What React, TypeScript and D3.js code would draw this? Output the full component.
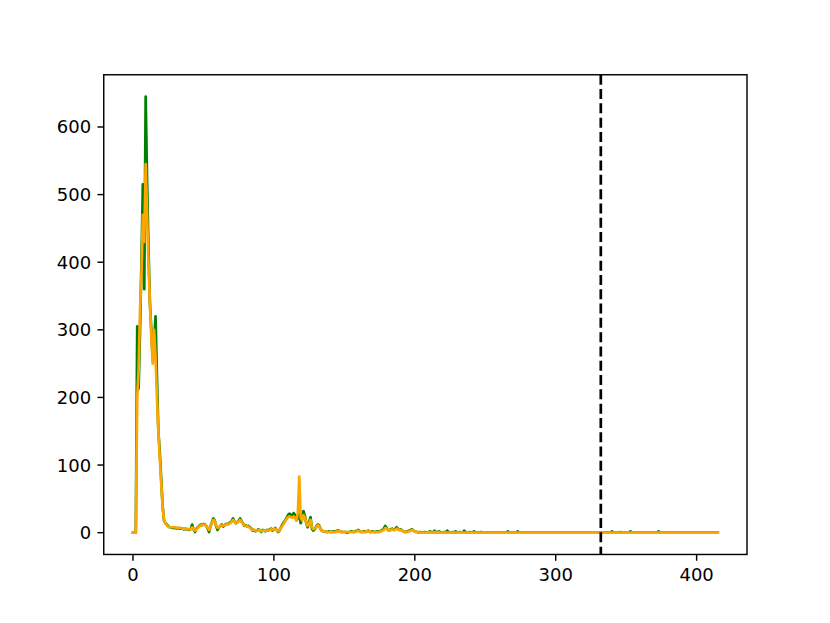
import React from "react";
import * as d3 from "d3";

const W = 830;
const H = 623;

// observed series (green), index 0..415
const actual: number[] = [
  0,0,0,305,213,300,400,515,360,645,520,420,340,300,255,280,320,230,150,120,
  80,40,18,14,12,10,8,8,7,7,7,6,7,6,6,6,5,6,5,5,
  4,6,12,5,1,6,8,10,12,11,13,12,10,6,1,10,15,21,18,10,
  4,8,10,12,9,11,13,12,14,15,17,21,17,14,15,18,21,17,14,10,
  11,9,10,8,6,3,4,2,3,5,3,1,4,3,2,4,3,5,6,3,
  5,7,4,1,3,8,12,15,18,22,26,28,27,24,29,26,18,22,28,14,
  20,32,25,14,8,16,23,6,3,5,9,12,11,6,3,2,2,1,1,2,
  1,1,2,1,2,3,3,2,1,1,1,1,0,1,1,2,1,1,2,3,
  4,2,1,1,2,1,2,3,1,1,2,1,1,2,1,2,3,4,6,10,
  7,4,3,5,6,4,5,8,6,4,5,3,2,1,1,2,3,4,5,3,
  2,1,1,0,1,0,0,1,0,0,1,2,0,1,3,1,0,2,1,0,
  0,1,0,3,1,0,0,1,0,2,0,0,1,0,0,3,1,0,0,1,
  0,0,2,0,0,0,0,1,0,0,0,0,0,0,0,0,0,0,0,0,
  0,0,0,0,0,0,2,0,0,0,0,0,0,2,0,0,0,0,0,0,
  0,0,0,0,0,0,0,0,0,0,0,0,0,0,0,0,0,0,0,0,
  0,0,0,0,0,0,0,0,0,0,0,0,0,0,0,0,0,0,0,0,
  0,0,0,0,0,0,0,0,0,0,0,0,0,0,0,0,0,0,0,0,
  2,0,0,0,0,0,1,0,0,0,0,0,0,2,0,0,0,0,0,0,
  0,0,0,0,0,0,0,0,0,0,0,0,0,2,0,0,0,0,0,0,
  0,0,0,0,0,0,0,0,0,0,0,0,0,0,0,0,0,0,0,0,
  0,0,0,0,0,0,0,0,0,0,0,0,0,0,0,0,
];

// fitted series (orange), index 0..415
const fitted: number[] = [
  0,0,0,200,240,330,380,470,430,545,470,400,340,290,250,300,260,200,150,110,
  75,40,18,14,11,9,8,8,8,8,8,7,7,7,7,6,6,6,6,5,
  5,5,8,6,3,5,7,9,11,11,12,12,10,7,4,9,14,19,17,11,
  7,8,10,11,10,11,12,12,13,14,16,19,17,14,15,17,19,16,13,11,
  10,9,9,7,5,4,4,3,3,4,3,2,3,3,3,3,3,4,5,4,
  5,6,4,2,3,7,10,13,17,20,23,24,23,22,24,22,18,30,83,22,
  18,26,22,14,10,14,19,8,5,6,8,11,10,6,3,2,2,1,1,1,
  1,1,1,1,1,2,2,2,1,1,1,1,1,1,1,1,1,1,1,2,
  3,2,1,1,1,1,2,2,1,1,1,1,1,1,1,1,2,3,4,7,
  6,4,3,4,5,4,4,6,5,4,4,3,2,1,1,1,2,3,4,3,
  2,1,1,0,0,0,0,0,0,0,0,1,0,0,1,0,0,1,0,0,
  0,0,0,0,0,0,0,0,0,0,0,0,0,0,0,0,0,0,0,0,
  0,0,0,0,0,0,0,0,0,0,0,0,0,0,0,0,0,0,0,0,
  0,0,0,0,0,0,0,0,0,0,0,0,0,0,0,0,0,0,0,0,
  0,0,0,0,0,0,0,0,0,0,0,0,0,0,0,0,0,0,0,0,
  0,0,0,0,0,0,0,0,0,0,0,0,0,0,0,0,0,0,0,0,
  0,0,0,0,0,0,0,0,0,0,0,0,0,0,0,0,0,0,0,0,
  0,0,0,0,0,0,0,0,0,0,0,0,0,0,0,0,0,0,0,0,
  0,0,0,0,0,0,0,0,0,0,0,0,0,0,0,0,0,0,0,0,
  0,0,0,0,0,0,0,0,0,0,0,0,0,0,0,0,0,0,0,0,
  0,0,0,0,0,0,0,0,0,0,0,0,0,0,0,0,
];

const splitIndex = 332;
const xTicks = [0, 100, 200, 300, 400];
const yTicks = [0, 100, 200, 300, 400, 500, 600];

const left = 103.75;
const right = 747;
const top = 74.76;
const bottom = 554.47;

export default function App() {
  const n = Math.max(actual.length, fitted.length);
  const xMax = n - 1;
  const xPad = xMax * 0.05;
  const yMax = d3.max(actual.concat(fitted)) as number;
  const yPad = yMax * 0.05;
  const x = d3.scaleLinear().domain([-xPad, xMax + xPad]).range([left, right]);
  const y = d3.scaleLinear().domain([-yPad, yMax + yPad]).range([bottom, top]);

  const line = d3
    .line<number>()
    .x((_, i) => x(i))
    .y((d) => y(d));

  const font = "'DejaVu Sans', sans-serif";

  return (
    <svg
      width={W}
      height={H}
      style={{ position: "absolute", left: 0, top: 0, background: "#fff" }}
    >
      <rect x={0} y={0} width={W} height={H} fill="#fff" />
      <path d={line(actual) || ""} fill="none" stroke="#008000" strokeWidth={2.7} strokeLinejoin="round" strokeLinecap="square" />
      <path d={line(fitted) || ""} fill="none" stroke="#FFA500" strokeWidth={2.7} strokeLinejoin="round" strokeLinecap="square" />
      <line
        x1={x(splitIndex)}
        x2={x(splitIndex)}
        y1={top}
        y2={bottom}
        stroke="#000"
        strokeWidth={2.7}
        strokeDasharray="10,4.3"
      />
      <rect x={left} y={top} width={right - left} height={bottom - top} fill="none" stroke="#000" strokeWidth={1.44} />
      {xTicks.map((t) => (
        <g key={"x" + t}>
          <line x1={x(t)} x2={x(t)} y1={bottom} y2={bottom + 6.3} stroke="#000" strokeWidth={1.44} />
          <text x={x(t)} y={bottom + 12.6} dy="0.76em" textAnchor="middle" fontFamily={font} fontSize={18}>
            {t}
          </text>
        </g>
      ))}
      {yTicks.map((t) => (
        <g key={"y" + t}>
          <line x1={left - 6.3} x2={left} y1={y(t)} y2={y(t)} stroke="#000" strokeWidth={1.44} />
          <text x={left - 12.6} y={y(t)} dy="0.36em" textAnchor="end" fontFamily={font} fontSize={18}>
            {t}
          </text>
        </g>
      ))}
    </svg>
  );
}
